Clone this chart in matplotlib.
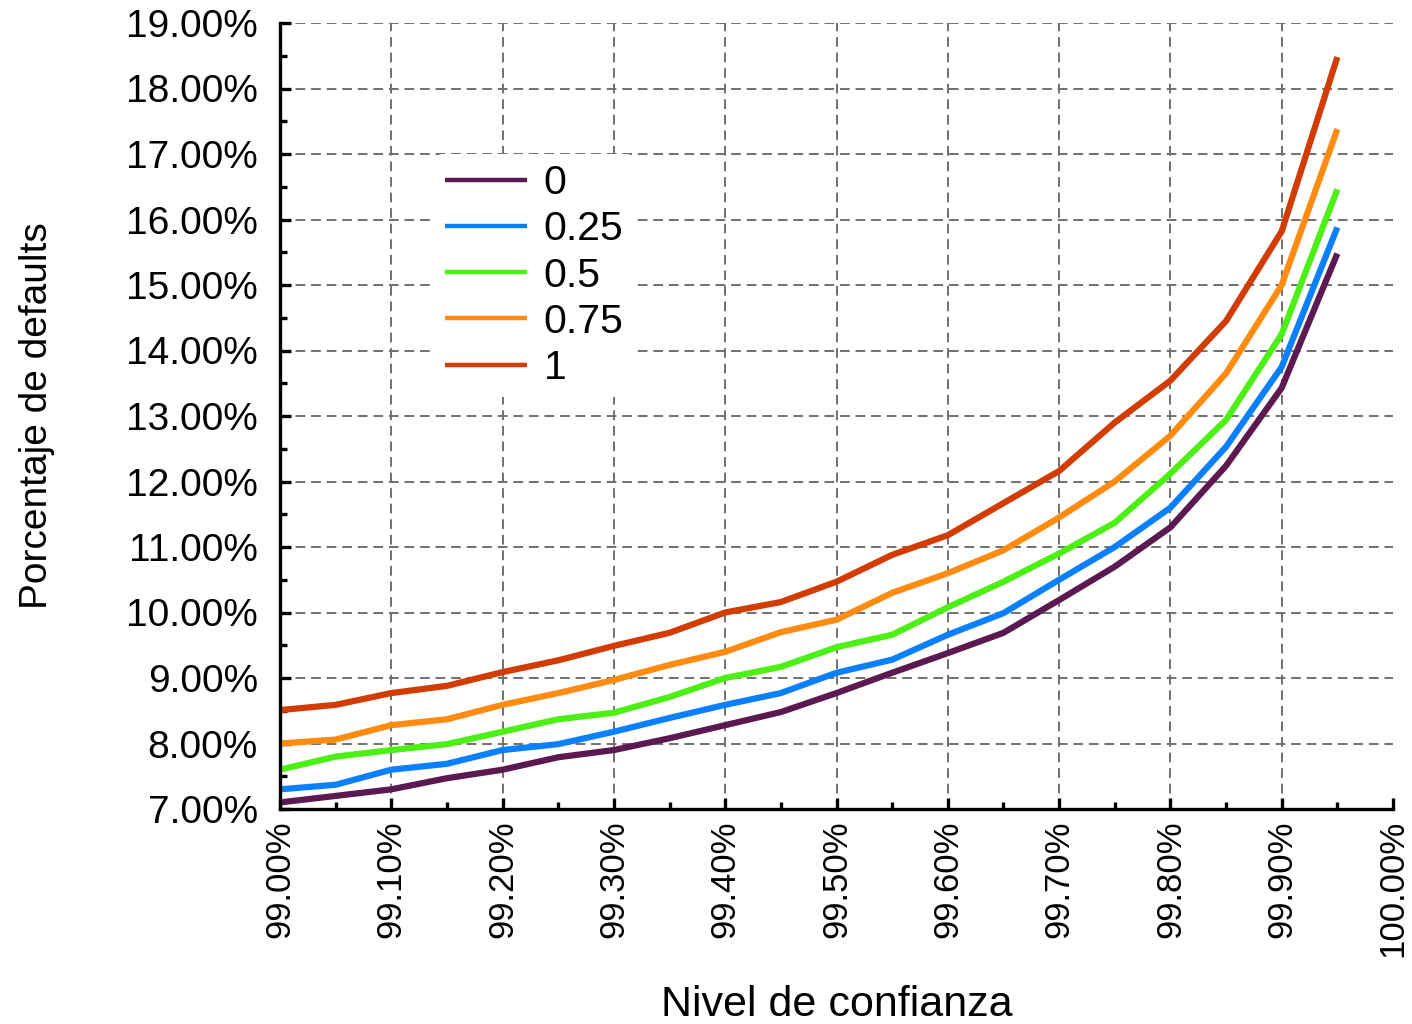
import numpy as np
import matplotlib as mpl
mpl.use('Agg')
import matplotlib.pyplot as plt
from matplotlib.ticker import MultipleLocator, FuncFormatter

plt.rcParams['font.family'] = ['Liberation Sans', 'DejaVu Sans']

# confidence levels (%) and default percentages per correlation value
conf = [99.00, 99.05, 99.10, 99.15, 99.20, 99.25, 99.30, 99.35, 99.40, 99.45,
        99.50, 99.55, 99.60, 99.65, 99.70, 99.75, 99.80, 99.85, 99.90, 99.95]
rho_labels = ['0', '0.25', '0.5', '0.75', '1']
d_0 = [7.10, 7.20, 7.30, 7.47, 7.60, 7.79, 7.90, 8.08, 8.28, 8.48,
       8.77, 9.08, 9.38, 9.69, 10.19, 10.70, 11.30, 12.24, 13.43, 15.48]
d_025 = [7.30, 7.37, 7.60, 7.69, 7.90, 7.99, 8.18, 8.39, 8.59, 8.77,
         9.08, 9.28, 9.66, 9.99, 10.50, 11.00, 11.60, 12.53, 13.75, 15.88]
d_05 = [7.60, 7.80, 7.90, 7.99, 8.18, 8.37, 8.47, 8.71, 9.00, 9.17,
        9.47, 9.66, 10.08, 10.47, 10.90, 11.37, 12.12, 12.94, 14.25, 16.46]
d_075 = [8.00, 8.06, 8.28, 8.37, 8.59, 8.77, 8.97, 9.20, 9.40, 9.70,
         9.89, 10.30, 10.60, 10.95, 11.45, 12.00, 12.70, 13.65, 15.00, 17.38]
d_1 = [8.51, 8.59, 8.77, 8.88, 9.09, 9.27, 9.49, 9.69, 10.00, 10.16,
       10.47, 10.88, 11.18, 11.67, 12.16, 12.90, 13.54, 14.45, 15.82, 18.48]
colors = ['#5c1850', '#0a80ff', '#4cf014', '#ff8c10', '#d23c00']

fig = plt.figure(figsize=(14.12, 10.24), dpi=100)
ax = fig.add_axes([280 / 1412, 1 - 809 / 1024, (1393 - 280) / 1412, (809 - 23) / 1024])

for ys, lab, c in zip([d_0, d_025, d_05, d_075, d_1], rho_labels, colors):
    ax.plot(conf, ys, color=c, lw=4.5, label=lab, solid_capstyle='butt')

ax.set_xlim(99.0, 100.0)
ax.set_ylim(7.0, 19.0)
ax.xaxis.set_major_locator(MultipleLocator(0.1))
ax.xaxis.set_minor_locator(MultipleLocator(0.05))
ax.yaxis.set_major_locator(MultipleLocator(1.0))
ax.yaxis.set_minor_locator(MultipleLocator(0.5))
ax.xaxis.set_major_formatter(FuncFormatter(lambda v, p: '%.2f%%' % v))
ax.yaxis.set_major_formatter(FuncFormatter(lambda v, p: '%.2f%%' % v))

ax.grid(True, which='major', color='#707070', ls=(0, (5, 3)), lw=1.4)
for s in ['top', 'right']:
    ax.spines[s].set_visible(False)
for s in ['left', 'bottom']:
    ax.spines[s].set_linewidth(2.4)

ax.tick_params(axis='both', which='major', direction='in', length=8, width=2.4)
ax.tick_params(axis='both', which='minor', direction='in', length=5, width=2.4)
ax.tick_params(axis='y', which='major', pad=16, labelsize=28)
ax.tick_params(axis='x', which='major', pad=8, labelsize=25, labelrotation=90)

ax.set_xlabel('Nivel de confianza', fontsize=31)
ax.xaxis.set_label_coords(0.5, -(1005 - 809) / 786)
ax.xaxis.label.set_va('center')
ax.set_ylabel('Porcentaje de defaults', fontsize=28)
ax.yaxis.set_label_coords(-(280 - 37) / 1113, 0.5)
ax.yaxis.label.set_va('center')

leg = ax.legend(loc='upper left', bbox_to_anchor=(435 / 1412, 1 - 154 / 1024),
                bbox_transform=fig.transFigure, fontsize=29.5, frameon=True,
                handlelength=2.0, handletextpad=0.4, labelspacing=0.2,
                borderpad=0.25, borderaxespad=0)
leg.get_frame().set_facecolor('white')
leg.get_frame().set_edgecolor('none')
leg.get_frame().set_alpha(1)
for ln in leg.get_lines():
    ln.set_linewidth(3.2)

# no vertical grid line at the right end (100%)
fig.canvas.draw()
for t in ax.xaxis.get_major_ticks():
    if abs(t.get_loc() - 100.0) < 1e-6:
        t.gridline.set_visible(False)

plt.savefig('out.png', dpi=100)
